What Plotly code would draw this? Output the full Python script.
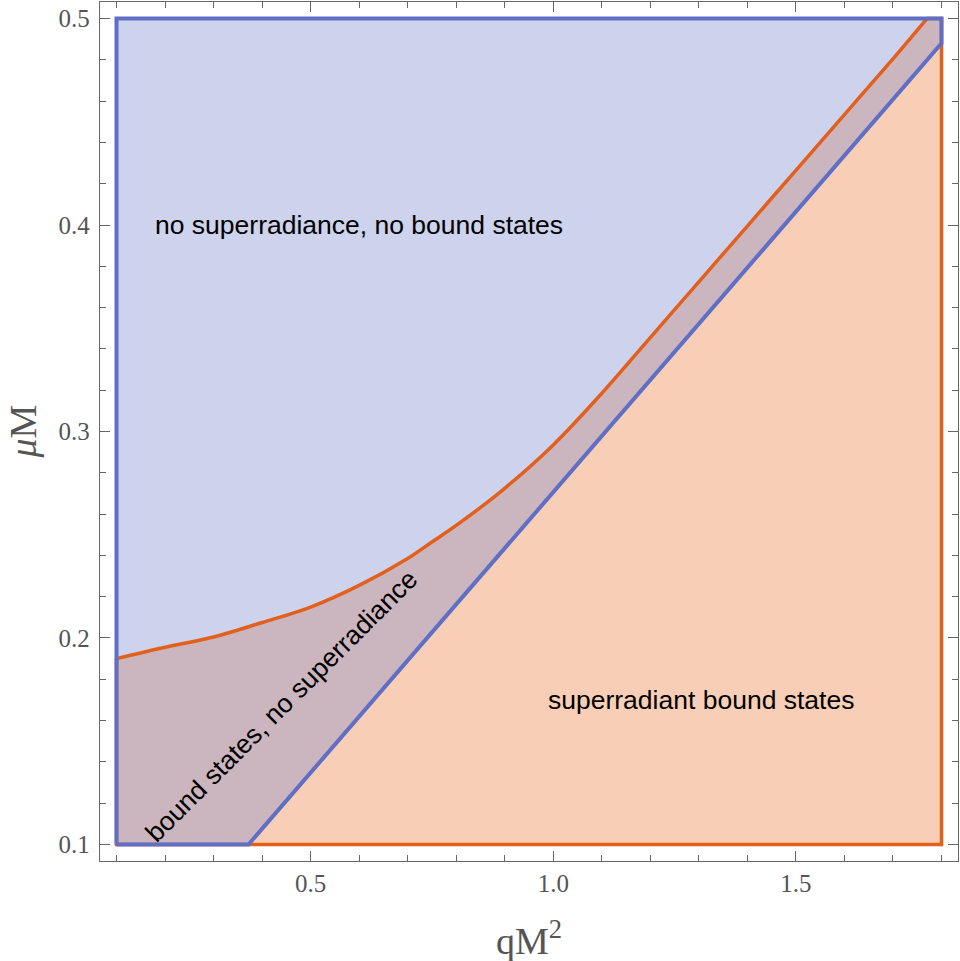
import plotly.graph_objects as go

# boundary of the bound-state region (orange curve)
q_curve = [0.10, 0.20, 0.30, 0.40, 0.50, 0.60, 0.70, 0.75, 0.80, 0.90, 1.00,
           1.10, 1.20, 1.30, 1.40, 1.50, 1.60, 1.70, 1.77]
mu_curve = [0.190, 0.1955, 0.2005, 0.2075, 0.215, 0.2255, 0.2385, 0.2465, 0.2545,
            0.2725, 0.2935, 0.3185, 0.3455, 0.3725, 0.3995, 0.4265, 0.4535, 0.4805, 0.500]

# superradiance threshold (blue straight line)
q_line = [0.372, 1.80]
mu_line = [0.10, 0.488]

# plotted window of the region plot
q_min, q_max = 0.10, 1.80
mu_min, mu_max = 0.10, 0.50

labels = ["no superradiance, no bound states", "bound states, no superradiance",
          "superradiant bound states"]
label_q = [0.60, 0.44, 1.305]
label_mu = [0.40, 0.167, 0.170]
label_angle = [0, -45, 0]

BLUE = "#5F6FC6"
ORANGE = "#E2601C"
BLUE_FILL = "#CDD3EC"
ORANGE_FILL = "#F8CFB6"
MIX_FILL = "#CBB5BE"
SERIF = "Liberation Serif, Times New Roman, serif"

fig = go.Figure()

# blue only: above the orange curve
fig.add_trace(go.Scatter(
    x=q_curve + [q_min], y=mu_curve + [mu_max],
    fill="toself", fillcolor=BLUE_FILL, line=dict(width=0), mode="lines",
    hoverinfo="skip", showlegend=False))

# overlap: between orange curve and blue line
fig.add_trace(go.Scatter(
    x=q_curve + [q_max, q_line[1], q_line[0], q_min],
    y=mu_curve + [mu_max, mu_line[1], mu_line[0], mu_min],
    fill="toself", fillcolor=MIX_FILL, line=dict(width=0), mode="lines",
    hoverinfo="skip", showlegend=False))

# orange only: below the blue line
fig.add_trace(go.Scatter(
    x=[q_line[0], q_line[1], q_max], y=[mu_line[0], mu_line[1], mu_min],
    fill="toself", fillcolor=ORANGE_FILL, line=dict(width=0), mode="lines",
    hoverinfo="skip", showlegend=False))

# orange boundary: curve + straight edges
fig.add_trace(go.Scatter(
    x=q_curve, y=mu_curve, mode="lines",
    line=dict(color=ORANGE, width=3.5, shape="spline", smoothing=1.0),
    hoverinfo="skip", showlegend=False))
fig.add_trace(go.Scatter(
    x=[q_curve[-1], q_max, q_max, q_min, q_min],
    y=[mu_curve[-1], mu_max, mu_min, mu_min, mu_curve[0]],
    mode="lines", line=dict(color=ORANGE, width=3.5),
    hoverinfo="skip", showlegend=False))

# blue boundary on top
fig.add_trace(go.Scatter(
    x=[q_min, q_line[0], q_line[1], q_max, q_min, q_min],
    y=[mu_min, mu_line[0], mu_line[1], mu_max, mu_max, mu_min],
    mode="lines", line=dict(color=BLUE, width=4),
    hoverinfo="skip", showlegend=False))

for txt, x, y, a in zip(labels, label_q, label_mu, label_angle):
    fig.add_annotation(x=x, y=y, text=txt, textangle=a, showarrow=False,
                       font=dict(family="Liberation Sans, Arial", size=26.5, color="black"))

# axis titles
fig.add_annotation(xref="paper", yref="paper", x=0.5, y=0, yshift=-77,
                   xanchor="center", yanchor="middle",
                   text="qM<sup>2</sup>", showarrow=False,
                   font=dict(family=SERIF, size=38, color="#555555"))
fig.add_annotation(xref="paper", yref="paper", x=0, y=0.5, xshift=-78,
                   xanchor="center", yanchor="middle", textangle=-90,
                   text="<i>μ</i>M", showarrow=False,
                   font=dict(family=SERIF, size=38, color="#555555"))

axis_style = dict(
    showgrid=False, zeroline=False, showline=True, mirror="allticks",
    linecolor="#666666", linewidth=1.3, automargin=False,
    ticks="inside", ticklen=10, tickwidth=1.3, tickcolor="#666666",
    tickfont=dict(family=SERIF, size=25, color="#555555"),
)

fig.update_xaxes(
    range=[0.066, 1.834], tickvals=[0.5, 1.0, 1.5], ticktext=["0.5", "1.0", "1.5"],
    ticklabelstandoff=0,
    minor=dict(ticks="inside", ticklen=6, tickcolor="#666666", dtick=0.1, tick0=0),
    **axis_style)
fig.update_yaxes(
    range=[0.092, 0.508], tickvals=[0.1, 0.2, 0.3, 0.4, 0.5],
    ticklabelstandoff=4,
    minor=dict(ticks="inside", ticklen=6, tickcolor="#666666", dtick=0.02, tick0=0),
    **axis_style)

fig.update_layout(
    width=960, height=961,
    margin=dict(l=100, r=2, t=2, b=100),
    plot_bgcolor="white", paper_bgcolor="white",
)

fig.write_html("out.html", config={"displayModeBar": False},
               post_script="document.body.style.margin='0';")
